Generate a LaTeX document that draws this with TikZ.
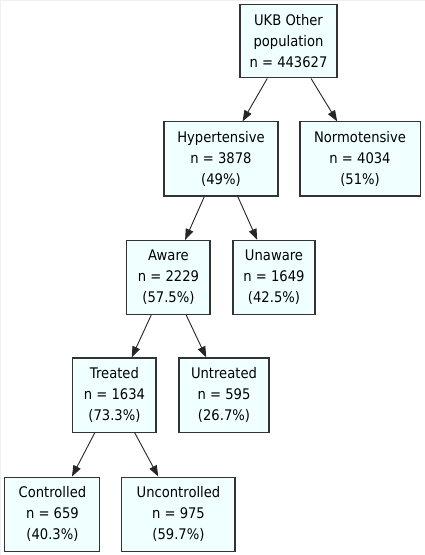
\documentclass[tikz,border=0pt]{standalone}
\usepackage{fontspec}
\setmainfont{DejaVu Sans}[FakeStretch=0.9]
\usetikzlibrary{arrows.meta}
\definecolor{boxfill}{HTML}{F0FFFF}
\definecolor{boxdraw}{HTML}{333333}
\begin{document}
\begin{tikzpicture}[x=1pt,y=-1pt,
  box/.style={draw=boxdraw,fill=boxfill,line width=1.1pt,inner sep=0pt,
    align=center,font=\fontsize{14.6}{21}\selectfont,text=black},
  link/.style={line width=0.9pt,draw=black!85,-{Triangle[length=11pt,width=8pt]}}]
\path[use as bounding box,draw=black!6,fill=white] (0.3,0.3) rectangle (424.7,554.7);
\node[box,minimum width=97pt,minimum height=73pt] (ukb) at (288.5,41.5) {UKB Other\\population\\n = 443627};
\node[box,minimum width=114pt,minimum height=74pt] (hyp) at (221,159) {Hypertensive\\n = 3878\\(49\%)};
\node[box,minimum width=120pt,minimum height=74pt] (nor) at (360,159) {Normotensive\\n = 4034\\(51\%)};
\node[box,minimum width=83pt,minimum height=74pt] (awa) at (168.5,277.5) {Aware\\n = 2229\\(57.5\%)};
\node[box,minimum width=82pt,minimum height=74pt] (una) at (274,277.5) {Unaware\\n = 1649\\(42.5\%)};
\node[box,minimum width=83pt,minimum height=74pt] (tre) at (114.5,395) {Treated\\n = 1634\\(73.3\%)};
\node[box,minimum width=90pt,minimum height=74pt] (unt) at (224,395) {Untreated\\n = 595\\(26.7\%)};
\node[box,minimum width=95pt,minimum height=74pt] (con) at (52.5,514) {Controlled\\n = 659\\(40.3\%)};
\node[box,minimum width=113pt,minimum height=74pt] (unc) at (178.5,514) {Uncontrolled\\n = 975\\(59.7\%)};
\draw[link] (ukb) -- (hyp);
\draw[link] (ukb) -- (nor);
\draw[link] (hyp) -- (awa);
\draw[link] (hyp) -- (una);
\draw[link] (awa) -- (tre);
\draw[link] (awa) -- (unt);
\draw[link] (tre) -- (con);
\draw[link] (tre) -- (unc);
\end{tikzpicture}
\end{document}
